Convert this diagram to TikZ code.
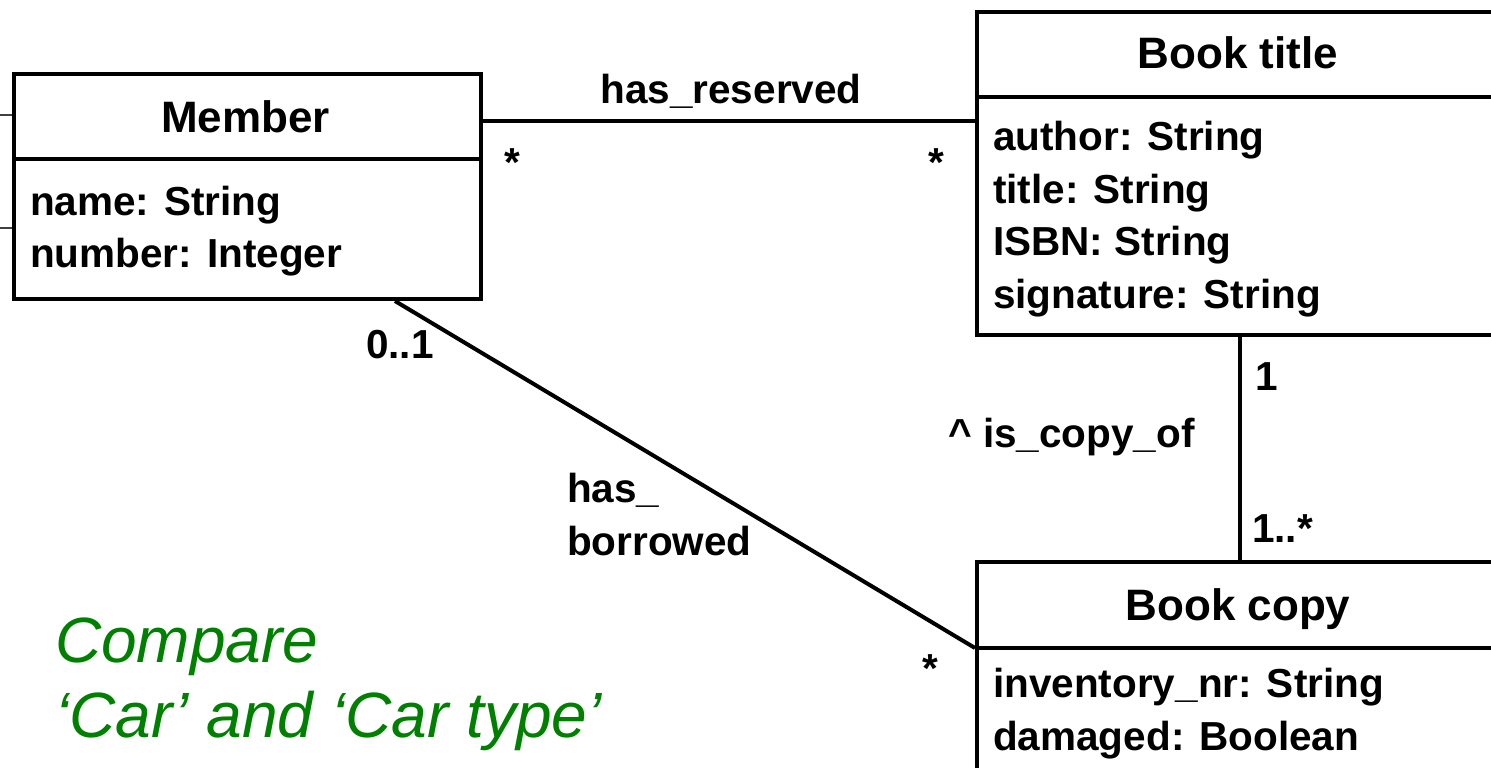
\documentclass[tikz,border=0pt]{standalone}
\usepackage{fontspec}
\setmainfont{Liberation Sans}
\usetikzlibrary{calc}
\definecolor{notegreen}{RGB}{0,128,0}
\begin{document}
\begin{tikzpicture}[x=1pt,y=-1pt,
  classbox/.style={draw, line width=4pt, rectangle, inner sep=0pt, anchor=north west},
  classname/.style={font=\fontsize{44}{53}\selectfont\bfseries, inner sep=0pt, anchor=base},
  attr/.style={font=\fontsize{40.5}{53}\selectfont\bfseries, inner sep=0pt, anchor=base west},
  mult/.style={attr},
  assoc/.style={line width=4pt},
  stub/.style={line width=1.5pt, black!75},
  note/.style={font=\fontsize{64}{74}\selectfont\itshape, text=notegreen, inner sep=0pt, anchor=base west}]
\useasboundingbox (0,0) rectangle (1491,768);

% class boxes
\node[classbox, minimum width=467pt, minimum height=225pt] (member) at (12,72) {};
\node[classbox, minimum width=526pt, minimum height=323pt] (booktitle) at (975,10) {};
\node[classbox, minimum width=526pt, minimum height=260pt] (bookcopy) at (975,560) {};

% compartment dividers
\draw[assoc] ($(member.north west)+(0,87)$) -- ($(member.north east)+(0,87)$);
\draw[assoc] ($(booktitle.north west)+(0,87)$) -- ($(booktitle.north east)+(0,87)$);
\draw[assoc] ($(bookcopy.north west)+(0,88)$) -- ($(bookcopy.north east)+(0,88)$);

% class names
\node[classname] (membername) at (245.5,132) {Member};
\node[classname] (titlename) at (1238,68) {Book title};
\node[classname] (copyname) at (1238,620) {Book copy};

% attributes
\node[attr] (mname) at (30,215) {name: String};
\node[attr] (mnumber) at (30,267) {number: Integer};
\node[attr] (tauthor) at (993,150) {author: String};
\node[attr] (ttitle) at (993,203) {title: String};
\node[attr] (tisbn) at (993,255) {ISBN: String};
\node[attr] (tsig) at (993,308) {signature: String};
\node[attr] (cinv) at (993,697) {inventory\_nr: String};
\node[attr] (cdam) at (993,750) {damaged: Boolean};

% stubs entering from the left margin
\coordinate (stubA) at (0,115);
\coordinate (stubB) at (0,228);
\draw[stub] (stubA) -- (stubA -| member.west);
\draw[stub] (stubB) -- (stubB -| member.west);

% associations
\draw[assoc] ($(member.north east)+(0,49)$) -- ($(booktitle.north west)+(0,111)$);
\draw[assoc] ($(member.south west)+(383,0)$) -- ($(bookcopy.north west)+(0,88)$);
\draw[assoc] (booktitle.south) -- (bookcopy.north);

% association names and multiplicities
\node[attr, anchor=base] (reserved) at (731,103) {has\_reserved};
\node[mult] (resM) at (504,176) {*};
\node[mult] (resT) at (928,176) {*};
\node[mult] (borM) at (366,358) {0..1};
\node[attr] (bor1) at (567,502) {has\_};
\node[attr] (bor2) at (567,555) {borrowed};
\node[mult] (borC) at (922,682) {*};
\node[mult] (copyT) at (1255,390) {1};
\node[attr] (copyof) at (948,447) {\^{} is\_copy\_of};
\node[mult] (copyC) at (1252,542) {1..*};

% remark
\node[note] (note1) at (55,662) {Compare};
\node[note] (note2) at (55,737) {‘Car’ and ‘Car type’};
\end{tikzpicture}
\end{document}
